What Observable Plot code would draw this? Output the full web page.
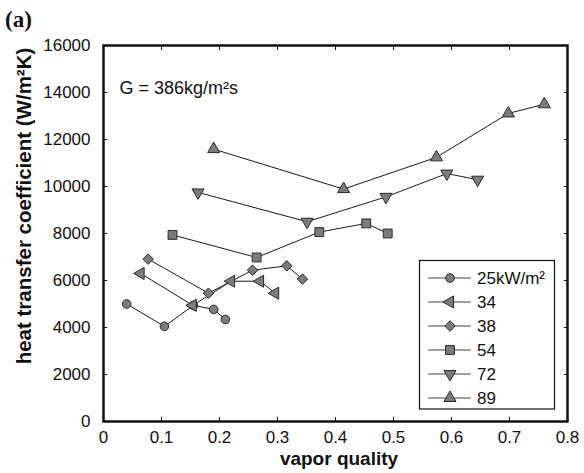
<!DOCTYPE html>
<html>
<head>
<meta charset="utf-8">
<script src="https://cdn.jsdelivr.net/npm/d3@7"></script>
<script src="https://cdn.jsdelivr.net/npm/@observablehq/plot@0.6"></script>
<style>
  html, body { margin: 0; padding: 0; background: #fff; }
  #chart { position: relative; width: 584px; height: 473px; }
  svg { display: block; }
</style>
</head>
<body>
<div id="chart"></div>
<script>
// ---- data ----
const seriesNames = ["25kW/m²", "34", "38", "54", "72", "89"];
const q25x = [0.040, 0.105, 0.155, 0.190, 0.210];
const q25y = [5000, 4050, 4940, 4770, 4340];
const q34x = [0.064, 0.154, 0.220, 0.270, 0.296];
const q34y = [6300, 4940, 5970, 5970, 5460];
const q38x = [0.077, 0.181, 0.257, 0.316, 0.343];
const q38y = [6910, 5460, 6440, 6625, 6060];
const q54x = [0.119, 0.264, 0.372, 0.453, 0.490];
const q54y = [7940, 6980, 8060, 8430, 8000];
const q72x = [0.163, 0.351, 0.487, 0.592, 0.645];
const q72y = [9750, 8500, 9560, 10550, 10290];
const q89x = [0.190, 0.414, 0.574, 0.698, 0.760];
const q89y = [11590, 9890, 11240, 13110, 13500];
const xTicks = [0, 0.1, 0.2, 0.3, 0.4, 0.5, 0.6, 0.7, 0.8];
const yTicks = [0, 2000, 4000, 6000, 8000, 10000, 12000, 14000, 16000];
const xTitle = "vapor quality";
const yTitle = "heat transfer coefficient (W/m²K)";
const panelTag = "(a)";
const note = "G = 386kg/m²s";

// marker styles per series
const symbols = ["circle", "triangle", "diamond2", "square", "triangle", "triangle"];
const rotations = [0, -90, 0, 0, 180, 0];
const radii = [4.3, 4.5, 4.7, 5.0, 4.5, 4.5];

const xs = [q25x, q34x, q38x, q54x, q72x, q89x];
const ys = [q25y, q34y, q38y, q54y, q72y, q89y];
const series = seriesNames.map((name, i) =>
  xs[i].map((x, j) => ({ name, x, y: ys[i][j] })));

const fillGray = "#7c7c7c";
const strokeDark = "#2a2a2a";
const font = "'Liberation Sans', Arial, Helvetica, sans-serif";

const marks = [];
series.forEach((data, i) => {
  marks.push(Plot.line(data, { x: "x", y: "y", stroke: "#1a1a1a", strokeWidth: 1 }));
});
series.forEach((data, i) => {
  marks.push(Plot.dot(data, {
    x: "x", y: "y", symbol: symbols[i], r: radii[i], rotate: rotations[i],
    fill: fillGray, stroke: strokeDark, strokeWidth: 1
  }));
});
marks.push(Plot.text([note], {
  frameAnchor: "top-left", dx: 16, dy: 48, text: d => d,
  fontSize: 18, textAnchor: "start", lineAnchor: "bottom", fill: "#111"
}));
marks.push(Plot.axisX({ ticks: xTicks, tickSize: -4, tickPadding: 13,
  tickFormat: d => d === 0 ? "0" : d.toFixed(1), label: null, stroke: "#111", fill: "#111" }));
marks.push(Plot.axisX({ anchor: "top", ticks: xTicks, tickSize: -4, tickFormat: () => "", label: null, stroke: "#111" }));
marks.push(Plot.axisY({ ticks: yTicks, tickSize: -4, tickPadding: 17,
  tickFormat: d3.format("d"), label: null, stroke: "#111", fill: "#111" }));
marks.push(Plot.axisY({ anchor: "right", ticks: yTicks, tickSize: -4, tickFormat: () => "", label: null, stroke: "#111" }));
marks.push(Plot.frame({ stroke: "#111", strokeWidth: 2.5 }));

const chart = Plot.plot({
  width: 584,
  height: 473,
  marginLeft: 103,
  marginRight: 17,
  marginTop: 45,
  marginBottom: 52,
  style: { fontSize: "17px", fontFamily: font, background: "#fff", color: "#111" },
  x: { domain: [0, 0.8] },
  y: { domain: [0, 16000] },
  marks
});
document.getElementById("chart").appendChild(chart);

// ---- extra text and legend drawn into the same SVG ----
const svg = d3.select(chart);
const mL = 103, mR = 17, W = 584;

svg.append("text")
  .attr("x", 5).attr("y", 27).attr("text-anchor", "start")
  .attr("font-family", "'Liberation Serif', 'Times New Roman', serif")
  .attr("font-weight", "bold").attr("font-size", 23).attr("fill", "#111")
  .text(panelTag);

svg.append("text")
  .attr("x", (mL + W - mR) / 2 + 4).attr("y", 465)
  .attr("text-anchor", "middle")
  .attr("font-family", font).attr("font-weight", "bold").attr("font-size", 19).attr("fill", "#111")
  .text(xTitle);

svg.append("text")
  .attr("transform", `translate(31,206) rotate(-90)`)
  .attr("text-anchor", "middle")
  .attr("font-family", font).attr("font-weight", "bold").attr("font-size", 20.5).attr("fill", "#111")
  .text(yTitle);

const symMap = { circle: d3.symbolCircle, triangle: d3.symbolTriangle, diamond2: d3.symbolDiamond2, square: d3.symbolSquare };
const lg = svg.append("g").attr("font-family", font).attr("font-size", 17).attr("text-anchor", "start");
lg.append("rect").attr("x", 419.5).attr("y", 260.5).attr("width", 135).attr("height", 148.5)
  .attr("fill", "#fff").attr("stroke", "#111").attr("stroke-width", 1.2);
seriesNames.forEach((name, i) => {
  const cy = 278 + i * 24;
  lg.append("line").attr("x1", 428).attr("x2", 471).attr("y1", cy).attr("y2", cy)
    .attr("stroke", "#444").attr("stroke-width", 1);
  lg.append("path")
    .attr("d", d3.symbol(symMap[symbols[i]], Math.PI * radii[i] * radii[i])())
    .attr("transform", `translate(450,${cy}) rotate(${rotations[i]})`)
    .attr("fill", fillGray).attr("stroke", strokeDark).attr("stroke-width", 1);
  lg.append("text").attr("x", 477).attr("y", cy).attr("dy", "0.35em").attr("fill", "#111").text(name);
});
</script>
</body>
</html>
